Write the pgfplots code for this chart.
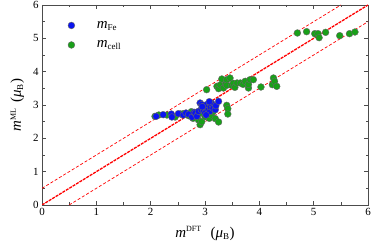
\documentclass[border=0pt]{standalone}
\usepackage{fontspec}
\setmainfont{Liberation Serif}
\usepackage{pgfplots}
\pgfplotsset{compat=1.18}
\definecolor{mblue}{RGB}{10,20,240}
\definecolor{mgreen}{RGB}{25,160,25}
\begin{document}
\begin{tikzpicture}
\begin{axis}[name=ax,
  width=326bp, height=200bp, scale only axis,
  xmin=0, xmax=6, ymin=0, ymax=6,
  xtick={0,1,2,3,4,5,6}, ytick={0,1,2,3,4,5,6},
  minor tick num=1,
  tick align=inside,
  major tick length=4bp, minor tick length=2.5bp,
  axis line style={black!70, line width=0.8bp},
  every tick/.style={black!70, line width=0.6bp},
  tick label style={font=\fontsize{11}{12}\selectfont},
  /pgf/number format/assume math mode=true,
  xlabel={\fontsize{15}{16}\selectfont\textit{m}\textsuperscript{\fontsize{8}{9}\selectfont DFT}\hspace{9bp}(\textit{μ}\textsubscript{\fontsize{9}{9}\selectfont B})},
  ylabel={\fontsize{15}{16}\selectfont\textit{m}\textsuperscript{\fontsize{8}{9}\selectfont ML}\hspace{5bp}(\textit{μ}\textsubscript{\fontsize{9}{9}\selectfont B})},
  xlabel style={yshift=-4bp},
  ylabel style={yshift=2bp},
  legend style={draw=none, fill=none, at={(0.07,0.94)}, anchor=north west,
    font=\fontsize{15}{16}\selectfont, row sep=7bp},
  legend cell align=left,
  clip=true,
]
\addplot[red, line width=1.3bp, dash pattern=on 3bp off 1bp, forget plot] coordinates {(0,0) (6,6)};
\addplot[red, line width=0.7bp, dash pattern=on 3bp off 2bp, forget plot] coordinates {(0,0.5) (5.5,6)};
\addplot[red, line width=0.7bp, dash pattern=on 3bp off 2bp, forget plot] coordinates {(0.5,0) (6,5.5)};
\addplot[only marks, mark=*, mark size=3.4bp, mark options={fill=mgreen, draw=black!60, line width=0.4bp}, forget plot] coordinates {
(2.08,2.66) (2.15,2.70) (2.30,2.70) (2.45,2.64) (2.55,2.73) (2.60,2.74)
(2.70,2.68) (2.75,2.80) (2.78,2.60) (2.85,2.72) (2.88,2.55) (2.90,2.75)
(2.91,2.41) (2.94,2.50) (2.95,2.88) (3.00,2.65) (3.02,2.78) (3.05,2.95)
(3.03,3.46) (3.08,2.60) (3.10,2.90) (3.12,2.70) (3.15,2.80) (3.18,2.95)
(3.19,2.59) (3.25,2.49) (3.22,3.56) (3.25,3.49) (3.28,3.60) (3.31,3.78)
(3.34,3.51) (3.38,3.62) (3.40,3.76) (3.40,3.59) (3.40,2.99) (3.42,2.89)
(3.42,2.73) (3.46,3.81) (3.49,3.59) (3.52,3.65) (3.55,3.53) (3.59,3.66)
(3.65,3.66) (3.70,3.62) (3.74,3.71) (3.80,3.51) (3.80,3.62) (3.83,3.76)
(3.89,3.76) (4.03,3.54) (4.24,3.61) (4.26,3.81) (4.28,3.71) (4.32,3.56)
(4.70,5.16) (4.87,5.20) (5.02,5.14) (5.08,5.14) (5.10,5.02) (5.22,5.18)
(5.48,5.08) (5.66,5.14) (5.76,5.19)
};
\addplot[only marks, mark=*, mark size=3.4bp, mark options={fill=mblue, draw=black!60, line width=0.4bp}, forget plot] coordinates {
(2.10,2.66) (2.23,2.71) (2.38,2.73) (2.39,2.64) (2.51,2.74) (2.60,2.70)
(2.65,2.76) (2.70,2.72) (2.76,2.64) (2.80,2.78) (2.82,2.76) (2.85,2.66)
(2.88,2.81) (2.91,3.06) (2.93,2.86) (2.94,3.01) (2.97,2.86) (3.00,2.76)
(3.03,3.01) (3.05,2.92) (3.06,2.84) (3.09,2.81) (3.10,2.95) (3.12,3.06)
(3.13,3.01) (3.15,2.90) (3.19,2.86) (3.20,2.98) (3.25,3.11) (3.02,2.70)
(2.95,2.95) (3.08,3.10)
};
\addlegendimage{only marks, mark=*, mark size=3.4bp, mark options={fill=mblue, draw=black!60, line width=0.4bp}}
\addlegendentry{\hspace{20bp}\textit{m}\textsubscript{\fontsize{9}{9}\selectfont Fe}}
\addlegendimage{only marks, mark=*, mark size=3.4bp, mark options={fill=mgreen, draw=black!60, line width=0.4bp}}
\addlegendentry{\hspace{20bp}\textit{m}\textsubscript{\fontsize{9}{9}\selectfont cell}}
\end{axis}
\pgfresetboundingbox
\path ([shift={(-42bp,-44bp)}]ax.south west) rectangle ([shift={(6bp,5bp)}]ax.north east);
\end{tikzpicture}
\end{document}
